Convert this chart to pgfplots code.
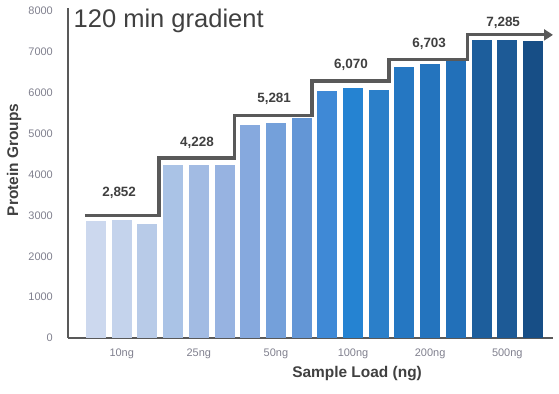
\documentclass[border=0pt]{standalone}
\usepackage{pgfplots}
\pgfplotsset{compat=1.18}
\usepackage{fontspec}
\setmainfont{Liberation Sans}
\usetikzlibrary{arrows.meta}
\definecolor{c1}{HTML}{CCD8EE}
\definecolor{c2}{HTML}{C4D3EC}
\definecolor{c3}{HTML}{B8CBE8}
\definecolor{c4}{HTML}{AAC3E6}
\definecolor{c5}{HTML}{A2BBE3}
\definecolor{c6}{HTML}{97B3E1}
\definecolor{c7}{HTML}{86A9DE}
\definecolor{c8}{HTML}{74A0DA}
\definecolor{c9}{HTML}{6396D6}
\definecolor{c10}{HTML}{3F89D6}
\definecolor{c11}{HTML}{2583D2}
\definecolor{c12}{HTML}{2B7FC9}
\definecolor{c13}{HTML}{2577C2}
\definecolor{c14}{HTML}{2474BE}
\definecolor{c15}{HTML}{2270B9}
\definecolor{c16}{HTML}{1D5E9C}
\definecolor{c17}{HTML}{1D5A96}
\definecolor{c18}{HTML}{174E86}
\definecolor{linegray}{HTML}{595959}
\definecolor{txtdark}{HTML}{404040}
\definecolor{ticktxt}{HTML}{80808E}
\pgfplotsset{mybar/.style={ybar, bar width=0.778, bar shift=0pt, draw=none, fill=#1}}
\begin{document}
\begin{tikzpicture}
\useasboundingbox (0,0) rectangle (559bp,394bp);
\begin{axis}[
  at={(68bp,56bp)}, anchor=south west,
  scale only axis, width=485bp, height=330.3bp,
  xmin=-1.089, xmax=17.78, ymin=0, ymax=8080,
  axis x line=bottom, axis y line=left,
  axis line style={-, draw=linegray, line width=1.3bp},
  ytick={0,1000,2000,3000,4000,5000,6000,7000,8000},
  xtick={1,4,7,10,13,16},
  xticklabels={10ng,25ng,50ng,100ng,200ng,500ng},
  major tick length=0pt,
  tick label style={font=\fontsize{11}{13}\selectfont, text=ticktxt},
  yticklabel style={inner sep=0pt, anchor=east, xshift=-15bp},
  xticklabel style={inner sep=0pt, anchor=north, yshift=-11bp},
  /pgf/number format/assume math mode=true,
  /pgf/number format/set thousands separator={},
  scaled y ticks=false,
  xlabel={Sample Load (ng)}, ylabel={Protein Groups},
  xlabel style={at={(axis description cs:0.596,-0.1211)}, anchor=base, inner sep=0pt, font=\bfseries\fontsize{15.5}{18}\selectfont, text=txtdark},
  ylabel style={at={(axis description cs:-0.111,0.539)}, anchor=center, inner sep=0pt, font=\bfseries\fontsize{15.5}{18}\selectfont, text=txtdark},
  clip=false,
]
\addplot[mybar=c1] coordinates {(0,2870)};
\addplot[mybar=c2] coordinates {(1,2895)};
\addplot[mybar=c3] coordinates {(2,2790)};
\addplot[mybar=c4] coordinates {(3,4230)};
\addplot[mybar=c5] coordinates {(4,4230)};
\addplot[mybar=c6] coordinates {(5,4225)};
\addplot[mybar=c7] coordinates {(6,5210)};
\addplot[mybar=c8] coordinates {(7,5260)};
\addplot[mybar=c9] coordinates {(8,5370)};
\addplot[mybar=c10] coordinates {(9,6030)};
\addplot[mybar=c11] coordinates {(10,6105)};
\addplot[mybar=c12] coordinates {(11,6075)};
\addplot[mybar=c13] coordinates {(12,6620)};
\addplot[mybar=c14] coordinates {(13,6700)};
\addplot[mybar=c15] coordinates {(14,6790)};
\addplot[mybar=c16] coordinates {(15,7300)};
\addplot[mybar=c17] coordinates {(16,7300)};
\addplot[mybar=c18] coordinates {(17,7255)};
\addplot[draw=linegray, line width=3.2bp, line join=miter, -{Triangle[length=9bp,width=11bp]}] coordinates {
  (-0.43,3000) (2.45,3000) (2.45,4405) (5.4,4405) (5.4,5450) (8.4,5450)
  (8.4,6285) (11.4,6285) (11.4,6810) (14.45,6810) (14.45,7415) (17.78,7415)};
\begin{scope}[every node/.style={font=\bfseries\fontsize{13.5}{16}\selectfont, text=txtdark}]
\node at (axis cs:0.9,3547) {2,852};
\node at (axis cs:3.93,4783) {4,228};
\node at (axis cs:6.93,5859) {5,281};
\node at (axis cs:9.92,6672) {6,070};
\node at (axis cs:12.96,7193) {6,703};
\node at (axis cs:15.84,7706) {7,285};
\end{scope}
\end{axis}
\node[anchor=base west, inner sep=0pt, font=\fontsize{25.6}{30}\selectfont, text=txtdark] at (73.5bp,366bp) {120 min gradient};
\end{tikzpicture}
\end{document}
